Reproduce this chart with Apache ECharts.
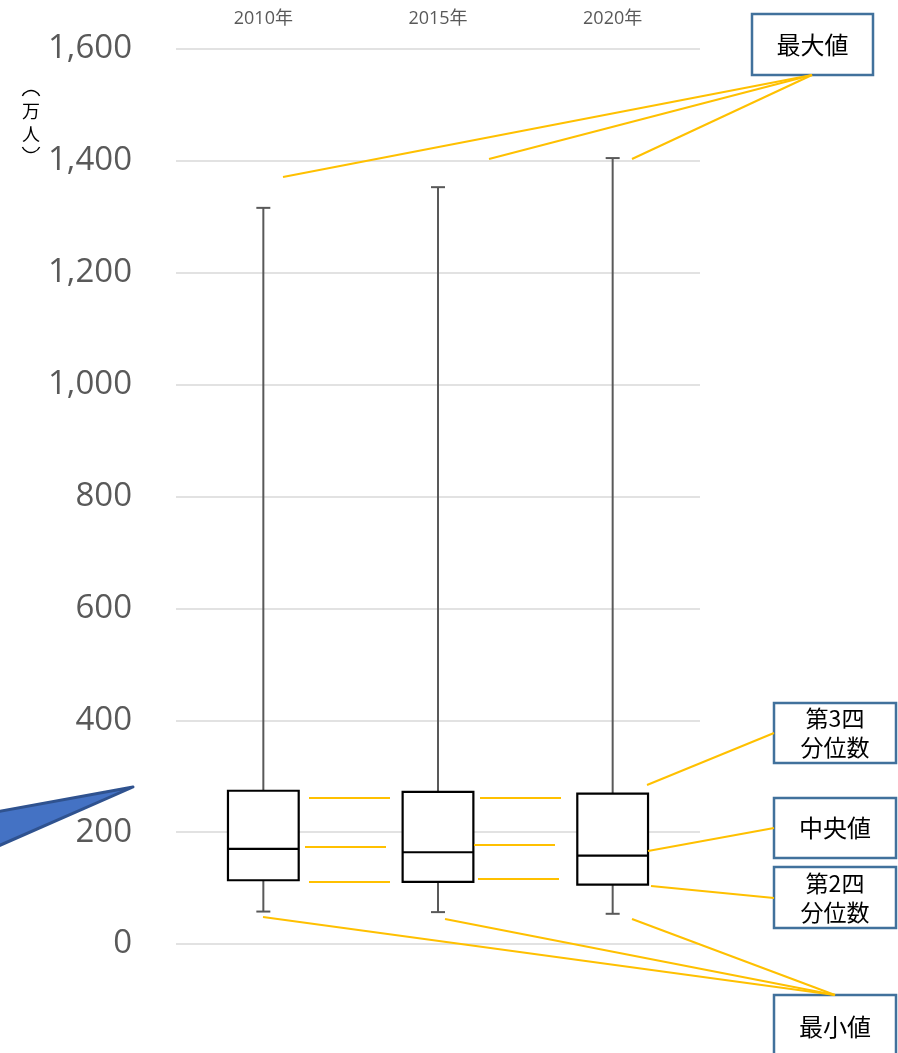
<!DOCTYPE html>
<html>
<head>
<meta charset="utf-8">
<script src="https://cdn.jsdelivr.net/npm/echarts@6/dist/echarts.min.js"></script>
<style>html,body{margin:0;padding:0;background:#fff;}#c{width:898px;height:1053px;}</style>
</head>
<body>
<div id="c"></div>
<script>
var categories = ['2010年', '2015年', '2020年'];
var minValues = [58, 57, 54];
var q1Values = [114, 111, 106];
var medianValues = [170, 164, 158];
var q3Values = [274, 272, 269];
var maxValues = [1316, 1353, 1405];
var yTicks = { min: 0, max: 1600, interval: 200 };

var boxData = categories.map(function (c, i) {
  return [i, minValues[i], q1Values[i], medianValues[i], q3Values[i], maxValues[i]];
});

var chart = echarts.init(document.getElementById('c'));
var orange = '#FFC000';
var boxBorder = '#41719C';
var cjk = '"Noto Sans CJK JP", sans-serif';

function line(x1, y1, x2, y2) {
  return { type: 'line', shape: { x1: x1, y1: y1, x2: x2, y2: y2 }, style: { stroke: orange, lineWidth: 2 }, z: 10 };
}
function labelBox(x, y, w, h, text, fs, lh, ty) {
  return {
    type: 'group', z: 20,
    children: [
      { type: 'rect', shape: { x: x, y: y, width: w, height: h }, style: { fill: '#fff', stroke: boxBorder, lineWidth: 2.5 } },
      { type: 'text', x: x + w / 2, y: ty != null ? ty : y + h / 2, style: { text: text, fontSize: fs, lineHeight: lh, fontFamily: cjk, fill: '#000', align: 'center', verticalAlign: 'middle' } }
    ]
  };
}
function vchar(t, y) {
  return { type: 'text', x: 31, y: y,
    style: { text: t, fontSize: 18, fontFamily: cjk, fill: '#000', align: 'center', verticalAlign: 'middle' } };
}
var deg = Math.PI / 180;

var graphics = [
  // y-axis name (vertical): ︵ 万 人 ︶
  { type: 'arc', shape: { cx: 31, cy: 100, r: 9.5, startAngle: 205 * deg, endAngle: 335 * deg }, style: { stroke: '#000', lineWidth: 1.4, fill: null } },
  vchar('万', 111),
  vchar('人', 134),
  { type: 'arc', shape: { cx: 31, cy: 143, r: 9.5, startAngle: 25 * deg, endAngle: 155 * deg }, style: { stroke: '#000', lineWidth: 1.4, fill: null } },
  // blue arrow
  { type: 'polygon', shape: { points: [[-4, 812], [133, 787], [-4, 847]] }, style: { fill: '#4472C4', stroke: '#2F528F', lineWidth: 3, lineJoin: 'round' }, z: 5 },
  // max callouts
  line(812, 75, 283, 177), line(812, 75, 489, 159), line(812, 75, 632, 159),
  // min callouts
  line(835, 995, 263, 917), line(835, 995, 445, 919), line(835, 995, 632, 919),
  // right-side callouts
  line(647, 785, 774, 733), line(648, 851, 774, 828), line(651, 886, 774, 898),
  // horizontal connectors between boxes
  line(309, 798, 390, 798), line(305, 847, 386, 847), line(309, 882, 390, 882),
  line(480, 798, 561, 798), line(474, 845, 555, 845), line(478, 879, 559, 879),
  // label boxes
  labelBox(752, 14, 121, 61, '最大値', 24, 28),
  labelBox(774, 703, 122, 60, '第3四\n分位数', 23, 29),
  labelBox(774, 798, 122, 60, '中央値', 24, 28),
  labelBox(774, 867, 122, 61, '第2四\n分位数', 23, 29),
  labelBox(774, 995, 122, 70, '最小値', 24, 28, 1027)
];

var option = {
  backgroundColor: '#fff',
  animation: false,
  grid: { left: 176, right: 198, top: 49, bottom: 109 },
  xAxis: {
    type: 'category', data: categories, position: 'top',
    axisLine: { show: false }, axisTick: { show: false },
    axisLabel: { color: '#595959', fontSize: 18, margin: 21, fontFamily: '"Open Sans", "Noto Sans CJK JP", sans-serif' }
  },
  yAxis: {
    type: 'value', min: yTicks.min, max: yTicks.max, interval: yTicks.interval,
    axisLine: { show: false }, axisTick: { show: false },
    splitLine: { lineStyle: { color: '#D9D9D9', width: 1.5 } },
    axisLabel: {
      color: '#595959', fontSize: 33, margin: 44, fontFamily: '"Open Sans", sans-serif',
      formatter: function (v) { return v.toLocaleString('en-US'); }
    }
  },
  series: [{
    type: 'custom',
    data: boxData,
    encode: { x: 0, y: [1, 2, 3, 4, 5] },
    renderItem: function (params, api) {
      var x = api.value(0);
      var pMin = api.coord([x, api.value(1)]);
      var pQ1 = api.coord([x, api.value(2)]);
      var pMed = api.coord([x, api.value(3)]);
      var pQ3 = api.coord([x, api.value(4)]);
      var pMax = api.coord([x, api.value(5)]);
      var band = api.size([1, 0])[0];
      var hw = band * 0.405 / 2;
      var cap = 7;
      var cx = pMed[0];
      var gray = { stroke: '#595959', lineWidth: 2 };
      var blk = { stroke: '#000', lineWidth: 2.2, fill: '#fff' };
      return {
        type: 'group',
        children: [
          { type: 'line', shape: { x1: cx, y1: pMax[1], x2: cx, y2: pQ3[1] }, style: gray },
          { type: 'line', shape: { x1: cx - cap, y1: pMax[1], x2: cx + cap, y2: pMax[1] }, style: gray },
          { type: 'line', shape: { x1: cx, y1: pQ1[1], x2: cx, y2: pMin[1] }, style: gray },
          { type: 'line', shape: { x1: cx - cap, y1: pMin[1], x2: cx + cap, y2: pMin[1] }, style: gray },
          { type: 'rect', shape: { x: cx - hw, y: pQ3[1], width: hw * 2, height: pQ1[1] - pQ3[1] }, style: blk },
          { type: 'line', shape: { x1: cx - hw, y1: pMed[1], x2: cx + hw, y2: pMed[1] }, style: { stroke: '#000', lineWidth: 2.2 } }
        ]
      };
    }
  }],
  graphic: graphics
};
chart.setOption(option);
</script>
</body>
</html>
